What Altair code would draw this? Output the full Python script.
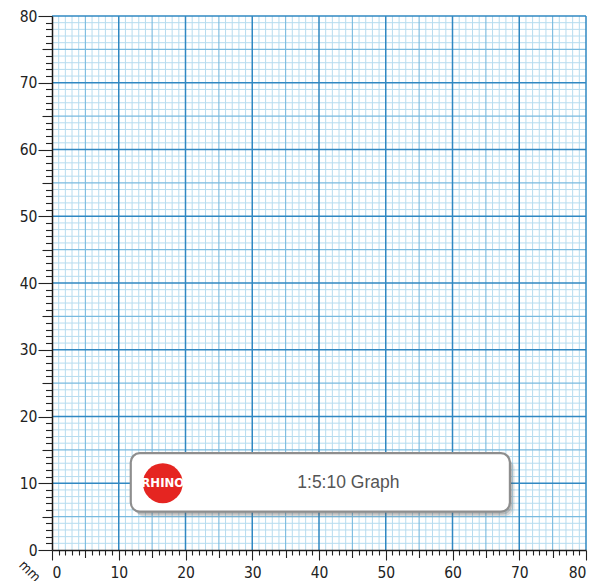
import altair as alt
import pandas as pd

# grid positions (mm)
major_lines = [10, 20, 30, 40, 50, 60, 70, 80]
mid_lines = [5, 15, 25, 35, 45, 55, 65, 75]
minor_lines = [v for v in range(1, 80) if v % 5 != 0]
tick_values = list(range(0, 81))

# label box
box_x = [11.8]
box_x2 = [68.6]
box_y = [5.75]
box_y2 = [14.5]
logo_x = [16.6]
logo_y = [10.0]
logo_text = ["RHINO"]
title_x = [44.4]
title_y = [10.0]
title_text = ["1:5:10 Graph"]

FONT = "DejaVu Sans Condensed, Liberation Sans, sans-serif"

xs = alt.Scale(domain=[0, 80], nice=False, zero=False)
ys = alt.Scale(domain=[0, 80], nice=False, zero=False)


def tick_cond(big, med, small):
    return {
        "condition": [
            {"test": "datum.value % 10 === 0", "value": big},
            {"test": "datum.value % 5 === 0", "value": med},
        ],
        "value": small,
    }


x_axis = alt.Axis(
    values=tick_values,
    labelExpr="datum.value % 10 === 0 ? datum.label : ''",
    labelOverlap=False,
    grid=False,
    domainColor="#1a1a1a",
    domainWidth=1.5,
    tickColor="#222222",
    tickWidth=1.1,
    tickSize=tick_cond(10, 7.5, 5),
    labelPadding=5,
    labelFont=FONT,
    labelFontSize=15.5,
    labelColor="#222222",
    title="mm",
    titleFont=FONT,
    titleFontSize=13.5,
    titleFontWeight="normal",
    titleColor="#222222",
    titleAngle=45,
    titleX=-23,
    titleY=21,
    titleAlign="center",
    titleBaseline="middle",
    zindex=1,
)
y_axis = alt.Axis(
    values=tick_values,
    labelExpr="datum.value % 10 === 0 ? datum.label : ''",
    labelOverlap=False,
    grid=False,
    domainColor="#1a1a1a",
    domainWidth=1.5,
    tickColor="#222222",
    tickWidth=1.1,
    tickSize=tick_cond(14, 10, 6.5),
    labelPadding=1,
    labelFont=FONT,
    labelFontSize=15.5,
    labelColor="#222222",
    title=None,
    zindex=1,
)


def X(field):
    return alt.X(field, scale=xs, axis=x_axis)


def Y(field):
    return alt.Y(field, scale=ys, axis=y_axis)


def vlines(vals, color, width):
    return alt.Chart(pd.DataFrame({"v": vals})).mark_rule(
        color=color, strokeWidth=width
    ).encode(x=X("v:Q"))


def hlines(vals, color, width):
    return alt.Chart(pd.DataFrame({"v": vals})).mark_rule(
        color=color, strokeWidth=width
    ).encode(y=Y("v:Q"))


minor_c = "#b6dcef"
mid_c = "#78badf"
major_c = "#3088c2"

grid = [
    vlines(minor_lines, minor_c, 1),
    hlines(minor_lines, minor_c, 1),
    vlines(mid_lines, mid_c, 1.1),
    hlines(mid_lines, mid_c, 1.1),
    vlines(major_lines, major_c, 1.5),
    hlines(major_lines, major_c, 1.5),
]

box_df = pd.DataFrame({"x": box_x, "x2": box_x2, "y": box_y, "y2": box_y2})


def box_layer(**mk):
    return alt.Chart(box_df).mark_rect(**mk).encode(
        x=X("x:Q"), x2="x2:Q", y=Y("y:Q"), y2="y2:Q"
    )


shadows = [
    box_layer(cornerRadius=10, fill="#555555", opacity=0.10,
              xOffset=5, x2Offset=5, yOffset=6, y2Offset=6),
    box_layer(cornerRadius=10, fill="#555555", opacity=0.15,
              xOffset=3.5, x2Offset=3.5, yOffset=4.5, y2Offset=4.5),
    box_layer(cornerRadius=10, fill="#555555", opacity=0.22,
              xOffset=2, x2Offset=2, yOffset=3, y2Offset=3),
]
box = box_layer(cornerRadius=9, fill="white", stroke="#8e8e8e", strokeWidth=2.2)

logo_df = pd.DataFrame({"x": logo_x, "y": logo_y, "t": logo_text})
logo = alt.Chart(logo_df).mark_point(
    filled=True, shape="circle", size=1590, color="#e52521", opacity=1
).encode(x=X("x:Q"), y=Y("y:Q"))
logo_t = alt.Chart(logo_df).mark_text(
    font=FONT, fontSize=13, fontWeight="bold", color="white", baseline="middle"
).encode(x=X("x:Q"), y=Y("y:Q"), text="t:N")

title_df = pd.DataFrame({"x": title_x, "y": title_y, "t": title_text})
title = alt.Chart(title_df).mark_text(
    font="Liberation Sans, Arial, sans-serif", fontSize=17.5, color="#555555", baseline="middle"
).encode(x=X("x:Q"), y=Y("y:Q"), text="t:N")

chart = alt.layer(*grid, *shadows, box, logo, logo_t, title).properties(
    width=534,
    height=534,
    background="white",
    padding={"left": 44, "right": 8, "top": 8, "bottom": 31},
    autosize=alt.AutoSizeParams(type="none"),
).configure_view(stroke=None)

chart.save("out.html", embed_options={"renderer": "svg", "actions": False})
